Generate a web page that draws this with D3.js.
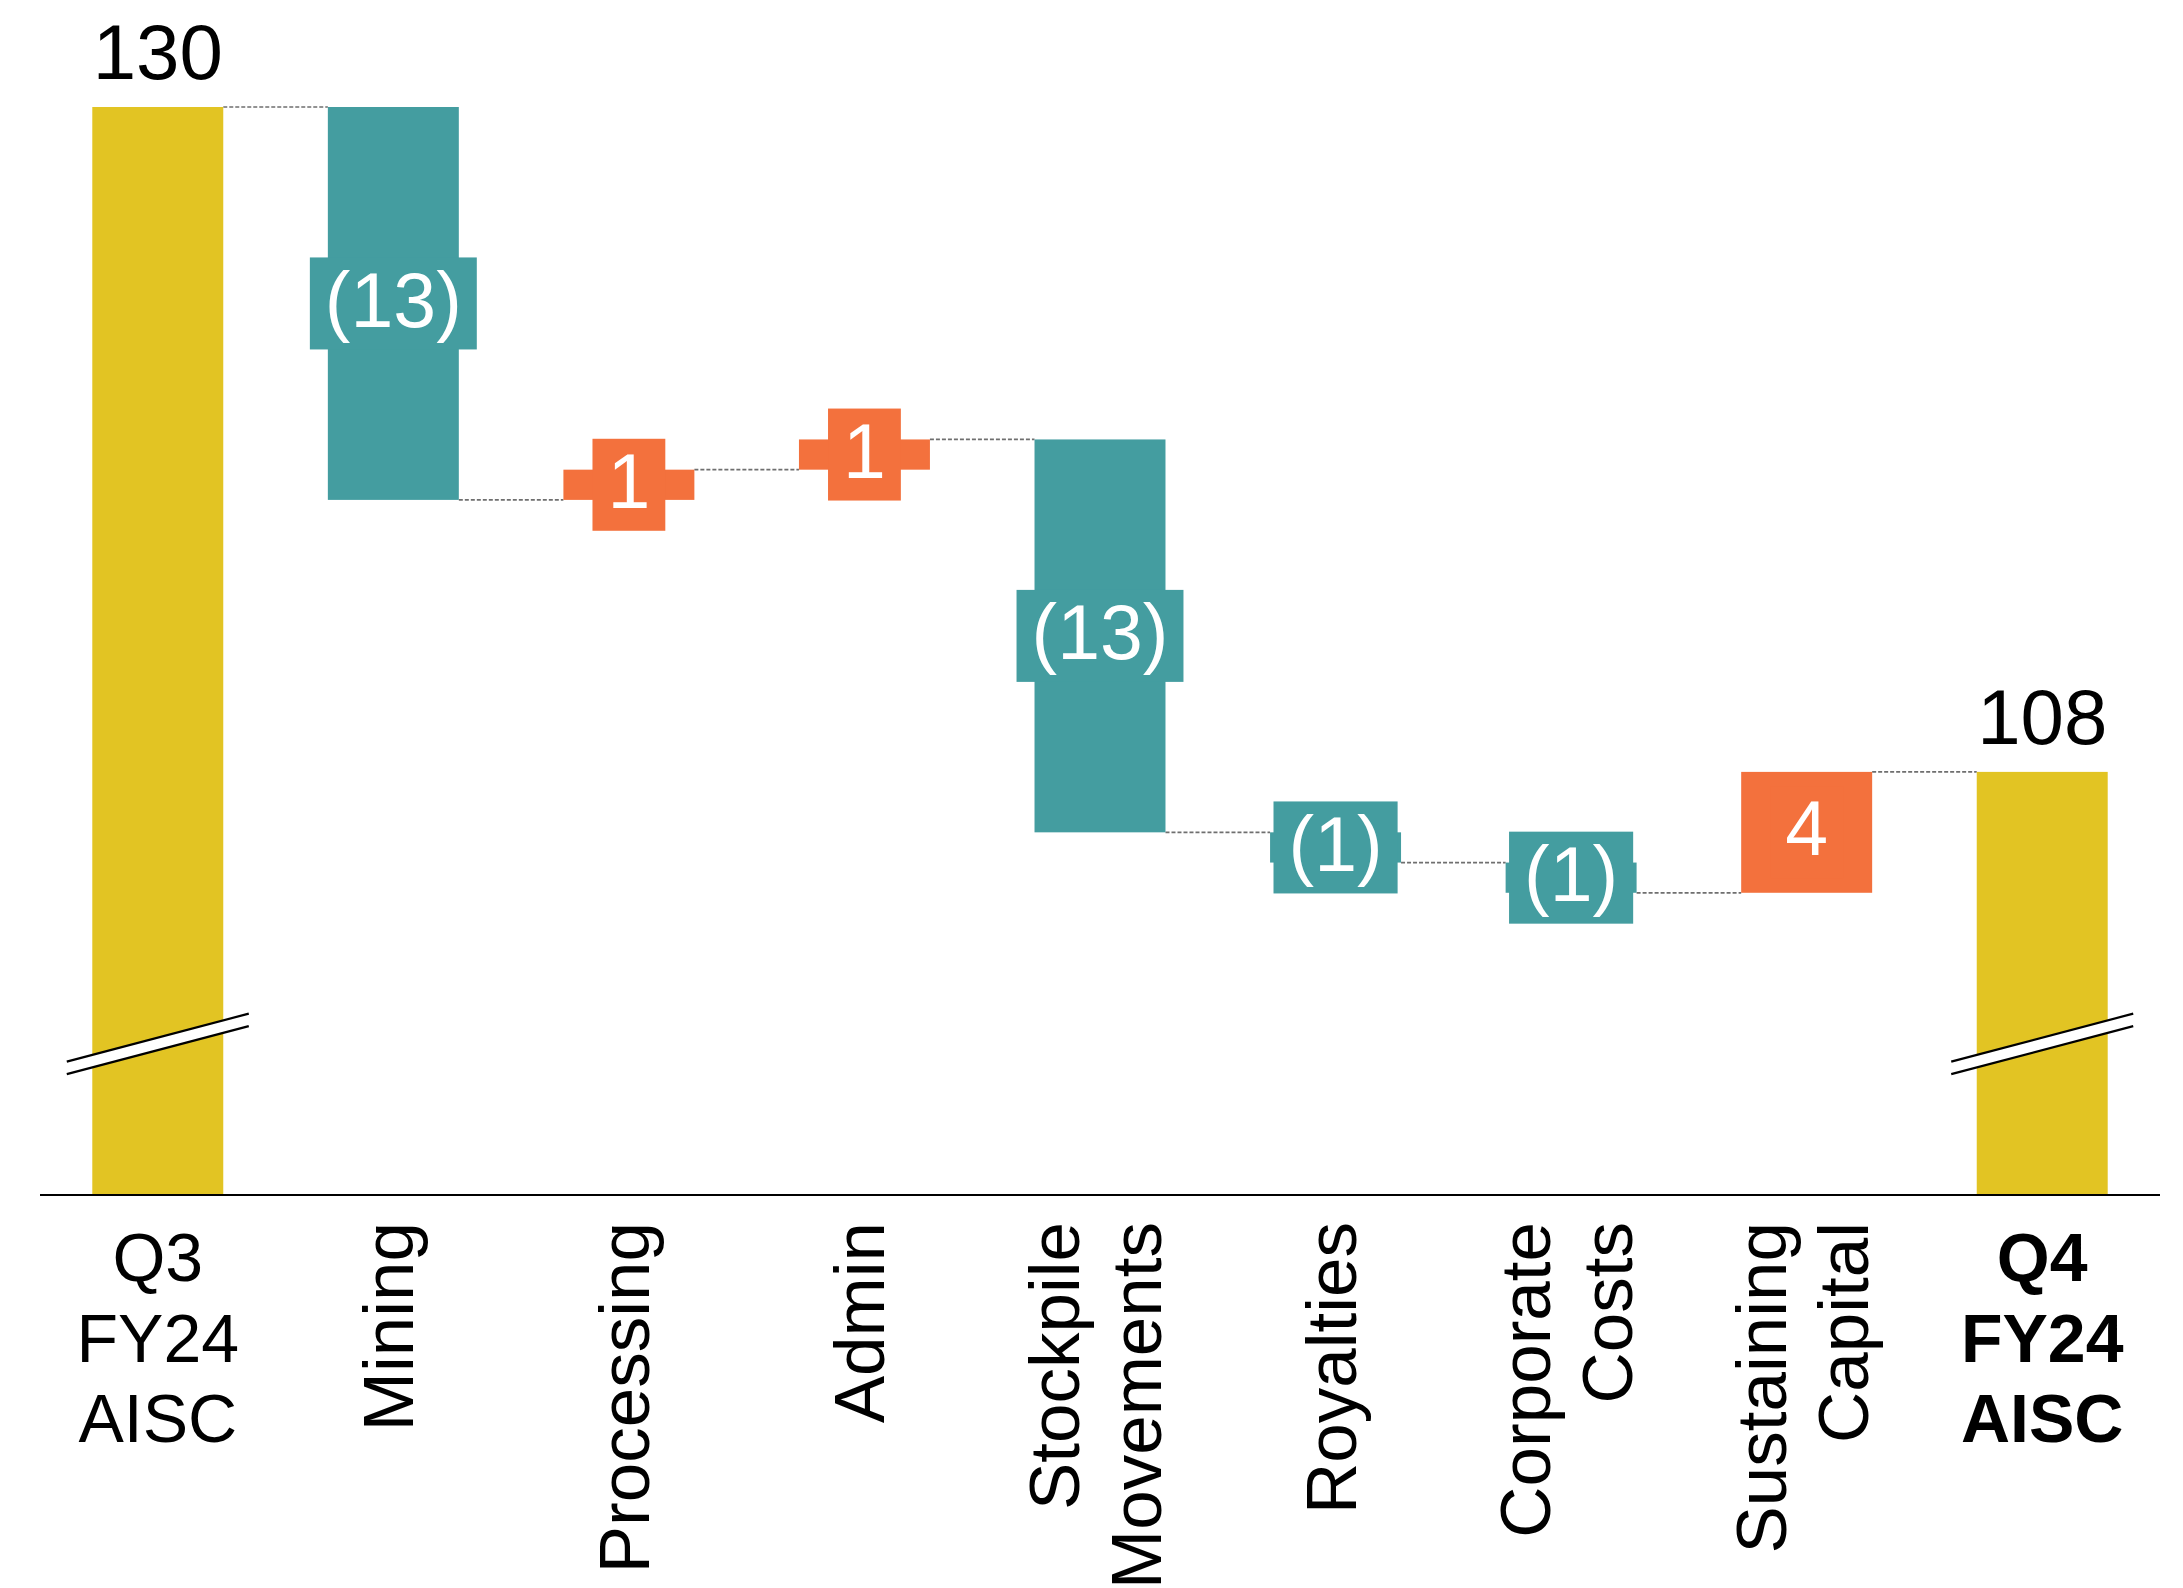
<!DOCTYPE html>
<html>
<head>
<meta charset="utf-8">
<script src="https://cdn.jsdelivr.net/npm/d3@7"></script>
<style>
  html, body { margin: 0; padding: 0; background: #ffffff; }
  svg { display: block; }
  text { font-family: "Liberation Sans", Arial, Helvetica, sans-serif; }
</style>
</head>
<body>
<svg id="chart" width="2183" height="1588"></svg>
<script>
// AISC bridge: Q3 FY24 to Q4 FY24
const categories = ["Q3 FY24 AISC", "Mining", "Processing", "Admin", "Stockpile Movements",
                    "Royalties", "Corporate Costs", "Sustaining Capital", "Q4 FY24 AISC"];
const categoryLines = [["Q3", "FY24", "AISC"], ["Mining"], ["Processing"], ["Admin"],
                       ["Stockpile", "Movements"], ["Royalties"], ["Corporate", "Costs"],
                       ["Sustaining", "Capital"], ["Q4", "FY24", "AISC"]];
const values = [130, -13, 1, 1, -13, -1, -1, 4, 108];
const kinds = ["total", "delta", "delta", "delta", "delta", "delta", "delta", "delta", "total"];
const axisFloor = 94;      // value at the baseline (axis is broken)
const breakValue = 99;     // where the break marks cut the total bars

const colors = { total: "#E2C423", up: "#F3713D", down: "#449DA0" };

const svg = d3.select("#chart");

const x = d3.scaleBand()
  .domain(categories)
  .range([40, 2160])
  .paddingInner(0.444)
  .paddingOuter(0.222);

const y = d3.scaleLinear()
  .domain([axisFloor, 130])
  .range([1195, 107]);

// running start/end of every step
let running = 0;
const steps = categories.map((c, i) => {
  const v = values[i];
  let start, end;
  if (kinds[i] === "total") { start = axisFloor; end = v; running = v; }
  else { start = running; end = running + v; running = end; }
  return { cat: c, lines: categoryLines[i], value: v, kind: kinds[i], start, end };
});

const fmt = v => v < 0 ? "(" + Math.abs(v) + ")" : String(v);
const fillOf = d => d.kind === "total" ? colors.total : (d.value < 0 ? colors.down : colors.up);

// connectors between bars
const conn = steps.slice(0, -1).map((d, i) => ({
  x1: x(d.cat) + x.bandwidth(), x2: x(steps[i + 1].cat), level: d.end
}));
svg.append("g").selectAll("line").data(conn).join("line")
  .attr("x1", d => d.x1).attr("x2", d => d.x2)
  .attr("y1", d => y(d.level)).attr("y2", d => y(d.level))
  .attr("stroke", "#6f6f6f").attr("stroke-width", 1.7)
  .attr("stroke-dasharray", "4,2");

// bars
svg.append("g").selectAll("rect").data(steps).join("rect")
  .attr("x", d => x(d.cat))
  .attr("width", x.bandwidth())
  .attr("y", d => y(Math.max(d.start, d.end)))
  .attr("height", d => Math.abs(y(d.start) - y(d.end)))
  .attr("fill", fillOf);

// value labels inside the delta bars, on a box of the bar colour
const deltas = steps.filter(d => d.kind === "delta");
const lab = svg.append("g").selectAll("g").data(deltas).join("g")
  .attr("transform", d => `translate(${x(d.cat) + x.bandwidth() / 2},${(y(d.start) + y(d.end)) / 2})`);
lab.append("rect").attr("fill", fillOf);
const labText = lab.append("text")
  .attr("text-anchor", "middle")
  .attr("dy", "0.3em")
  .attr("font-size", 77)
  .attr("fill", "#ffffff")
  .text(d => fmt(d.value));
labText.each(function () {
  const w = this.getComputedTextLength();
  d3.select(this.parentNode).select("rect")
    .attr("x", -w / 2 - 15).attr("width", w + 30)
    .attr("y", -46).attr("height", 92);
});

// total labels above the totals
const totals = steps.filter(d => d.kind === "total");
svg.append("g").selectAll("text").data(totals).join("text")
  .attr("x", d => x(d.cat) + x.bandwidth() / 2)
  .attr("y", d => y(d.end) - 28)
  .attr("text-anchor", "middle")
  .attr("font-size", 78)
  .attr("fill", "#000000")
  .text(d => fmt(d.value));

// axis break marks on the total bars
const brk = svg.append("g").selectAll("g").data(totals).join("g")
  .attr("transform", d => `translate(${x(d.cat) + x.bandwidth() / 2},${y(breakValue)})`);
const hw = 91, rise = 24, gap = 12.5;
brk.append("path")
  .attr("d", `M${-hw},${rise - gap / 2} L${hw},${-rise - gap / 2} L${hw},${-rise + gap / 2} L${-hw},${rise + gap / 2} Z`)
  .attr("fill", "#ffffff");
[-gap / 2, gap / 2].forEach(off => {
  brk.append("line")
    .attr("x1", -hw).attr("y1", rise + off)
    .attr("x2", hw).attr("y2", -rise + off)
    .attr("stroke", "#000000").attr("stroke-width", 2.2);
});

// baseline
svg.append("line")
  .attr("x1", x.range()[0]).attr("x2", x.range()[1])
  .attr("y1", y(axisFloor)).attr("y2", y(axisFloor))
  .attr("stroke", "#000000").attr("stroke-width", 2.2);

// category labels: totals stacked horizontally, steps rotated
const cat = svg.append("g").selectAll("g").data(steps).join("g");
cat.filter(d => d.kind === "total").each(function (d) {
  const g = d3.select(this);
  d.lines.forEach((ln, i) => {
    g.append("text")
      .attr("x", x(d.cat) + x.bandwidth() / 2)
      .attr("y", 1281 + i * 80.5)
      .attr("text-anchor", "middle")
      .attr("font-size", 68)
      .attr("font-weight", d.cat.startsWith("Q4") ? "bold" : "normal")
      .attr("fill", "#000000")
      .text(ln);
  });
});
cat.filter(d => d.kind === "delta").each(function (d) {
  const g = d3.select(this)
    .attr("transform", `translate(${x(d.cat) + x.bandwidth() / 2},1222) rotate(-90)`);
  const n = d.lines.length;
  d.lines.forEach((ln, i) => {
    g.append("text")
      .attr("x", 0)
      .attr("y", (i - (n - 1) / 2) * 82 + 20)
      .attr("text-anchor", "end")
      .attr("font-size", 71)
      .attr("fill", "#000000")
      .text(ln);
  });
});
</script>
</body>
</html>
